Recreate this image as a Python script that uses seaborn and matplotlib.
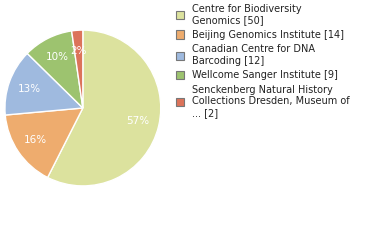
import matplotlib
matplotlib.use('Agg')
import matplotlib.pyplot as plt
import seaborn as sns
from matplotlib.patches import Patch

# data
labels = ['Centre for Biodiversity\nGenomics [50]',
          'Beijing Genomics Institute [14]',
          'Canadian Centre for DNA\nBarcoding [12]',
          'Wellcome Sanger Institute [9]',
          'Senckenberg Natural History\nCollections Dresden, Museum of\n... [2]']
counts = [50, 14, 12, 9, 2]
colors = ['#dce29e', '#eeac6e', '#9fbadf', '#9dc36f', '#dc735a']

sns.set_style('white')
plt.rcParams['font.family'] = ['DejaVu Sans']

fig = plt.figure(figsize=(3.8, 2.4), dpi=100)
ax = fig.add_axes([0.013, 0.225, 0.41, 0.65])

wedges, texts, autotexts = ax.pie(
    counts, colors=sns.color_palette(colors), startangle=90, counterclock=False,
    autopct=lambda p: f'{int(p)}%', pctdistance=0.73,
    textprops={'color': 'white', 'fontsize': 7.5})
ax.set_xlim(-1, 1)
ax.set_ylim(-1, 1)
ax.set_aspect('equal')

handles = [Patch(facecolor=c, edgecolor='#777777', linewidth=0.8) for c in colors]
leg = fig.legend(handles, labels, loc='upper left', bbox_to_anchor=(0.447, 1.008),
                 frameon=False, fontsize=7, handlelength=0.9, handleheight=0.9,
                 handletextpad=0.8, labelspacing=0.45, borderaxespad=0.2)
for t in leg.get_texts():
    t.set_color('#222222')

fig.savefig('out.png', dpi=100)
